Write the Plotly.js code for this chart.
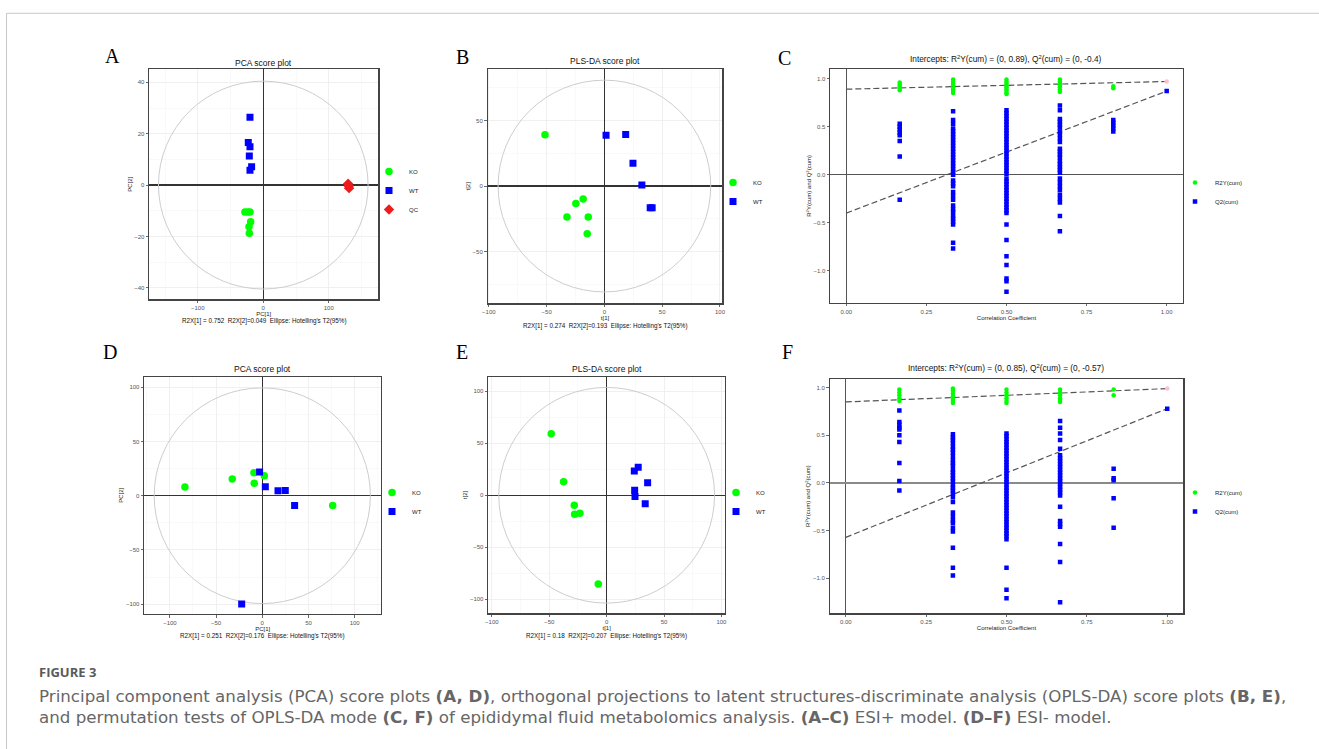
<!DOCTYPE html>
<html><head><meta charset="utf-8">
<script src="https://cdn.plot.ly/plotly-3.0.1.min.js"></script>
<style>html,body{margin:0;padding:0;background:#fff;} #chart{width:1319px;height:749px;}</style>
</head><body><div id="chart"></div>
<script>
// ---------------- DATA ----------------
// (A) PCA score plot, ESI+
const A_KO_x = [-28, -23.5, -20.3, -19.3, -21.8, -21.3];
const A_KO_y = [-10.5, -10.5, -10.5, -14.3, -16.2, -18.8];
const A_WT_x = [-20.3, -22.9, -20.3, -21.3, -17.8, -20.3];
const A_WT_y = [26.4, 16.6, 14.9, 11.3, 7.1, 5.8];
const A_QC_x = [129.5, 131, 130.5];
const A_QC_y = [0.5, -1.2, -0.4];
const A_R2X = [0.752, 0.049];
const A_ellipse = [160, 40.5];

// (B) PLS-DA score plot, ESI+
const B_KO_x = [-51.4, -18.4, -24.7, -32.4, -14, -14.9];
const B_KO_y = [39.3, -9.9, -13.3, -23.7, -23.7, -36.5];
const B_WT_x = [1.4, 18.4, 24.7, 32.4, 39.6, 41.3];
const B_WT_y = [38.8, 39.5, 17.4, 0.8, -16.6, -16.6];
const B_R2X = [0.274, 0.193];
const B_ellipse = [92, 81];

// (D) PCA score plot, ESI-
const D_KO_x = [-83.7, -32.5, -9.0, -8.7, 2.2, 76.2];
const D_KO_y = [8.0, 15.4, 21.2, 11.4, 18.5, -8.9];
const D_WT_x = [-2.9, 3.3, 17, 24.9, 35.0, -22.3];
const D_WT_y = [21.9, 8.3, 4.6, 4.9, -8.9, -99.9];
const D_R2X = [0.251, 0.176];
const D_ellipse = [117, 99.5];

// (E) PLS-DA score plot, ESI-
const E_KO_x = [-48.3, -37.5, -28.2, -27.9, -23.3, -7.3];
const E_KO_y = [59.2, 13.1, -9.6, -18.3, -17.3, -85.3];
const E_WT_x = [24.1, 27.5, 35.7, 24.4, 24.7, 33.6];
const E_WT_y = [23.4, 26.9, 12.1, 4.8, -1.3, -8.1];
const E_R2X = [0.18, 0.207];
const E_ellipse = [94, 103.7];

// Permutation tests: retained-correlation positions
const permX = [0.1667, 0.3333, 0.5, 0.6667, 0.8333];

// (C) ESI+ permutation test
const C_R2_cols = [
  [0.96, 0.94, 0.92, 0.90, 0.88],
  [0.99, 0.97, 0.95, 0.93, 0.91, 0.89, 0.87, 0.85],
  [0.99, 0.97, 0.95, 0.93, 0.91, 0.89, 0.87, 0.85, 0.84],
  [0.99, 0.97, 0.95, 0.93, 0.91, 0.89, 0.87, 0.86],
  [0.92, 0.90]
];
const C_Q2_cols = [
  [0.53, 0.50, 0.47, 0.44, 0.41, 0.35, 0.19, -0.26],
  [0.66, 0.57, 0.53, 0.48, 0.45, 0.42, 0.39, 0.36, 0.33, 0.30, 0.27, 0.24, 0.21, 0.18, 0.15, 0.12, 0.09, 0.06, 0.03, 0.00,
   -0.06, -0.09, -0.12, -0.18, -0.22, -0.26, -0.32, -0.36, -0.39, -0.43, -0.46, -0.49, -0.52, -0.71, -0.77],
  [0.67, 0.64, 0.61, 0.58, 0.55, 0.52, 0.49, 0.46, 0.43, 0.40, 0.37, 0.34, 0.31, 0.28, 0.25, 0.22, 0.19, 0.16, 0.13, 0.10,
   0.07, 0.04, 0.01, -0.04, -0.07, -0.10, -0.13, -0.16, -0.19, -0.22, -0.25, -0.28, -0.31, -0.34, -0.37, -0.40,
   -0.52, -0.68, -0.85, -0.94, -1.08, -1.11, -1.22],
  [0.72, 0.67, 0.58, 0.55, 0.52, 0.49, 0.45, 0.42, 0.38, 0.34, 0.27, 0.24, 0.21, 0.18, 0.14, 0.11, 0.08, 0.05, 0.02,
   -0.04, -0.08, -0.12, -0.16, -0.21, -0.25, -0.29, -0.43, -0.59],
  [0.57, 0.54, 0.51, 0.48, 0.45]
];
const C_orig = {R2: 0.97, Q2: 0.87};
const C_intercepts = {R2: 0.89, Q2: -0.4};

// (F) ESI- permutation test
const F_R2_cols = [
  [0.98, 0.95, 0.92, 0.89, 0.86],
  [0.99, 0.97, 0.94, 0.91, 0.88, 0.86, 0.84],
  [0.98, 0.95, 0.92, 0.89, 0.86, 0.84],
  [0.98, 0.95, 0.92, 0.89, 0.87, 0.85],
  [0.98, 0.92]
];
const F_Q2_cols = [
  [0.76, 0.64, 0.61, 0.58, 0.56, 0.50, 0.43, 0.21, 0.02, -0.08],
  [0.51, 0.48, 0.45, 0.42, 0.38, 0.35, 0.32, 0.28, 0.24, 0.21, 0.18, 0.14, 0.11, 0.08, 0.05, 0.02, -0.02, -0.05,
   -0.08, -0.11, -0.15, -0.20, -0.31, -0.35, -0.39, -0.42, -0.47, -0.51, -0.68, -0.89, -0.97],
  [0.52, 0.49, 0.46, 0.43, 0.40, 0.37, 0.34, 0.31, 0.28, 0.25, 0.22, 0.19, 0.16, 0.13, 0.10, 0.07, 0.04, 0.01,
   -0.02, -0.05, -0.08, -0.11, -0.14, -0.17, -0.20, -0.23, -0.26, -0.29, -0.32, -0.35, -0.38, -0.41, -0.44, -0.47,
   -0.50, -0.53, -0.56, -0.59, -0.89, -1.12, -1.21],
  [0.65, 0.58, 0.52, 0.45, 0.36, 0.29, 0.26, 0.23, 0.20, 0.17, 0.14, 0.11, 0.08, 0.05, 0.02, -0.01, -0.04, -0.07,
   -0.10, -0.13, -0.25, -0.40, -0.43, -0.46, -0.64, -0.83, -1.25],
  [0.15, 0.05, 0.03, -0.16, -0.47]
];
const F_orig = {R2: 0.99, Q2: 0.78};
const F_intercepts = {R2: 0.85, Q2: -0.57};

const groupNames = ['KO', 'WT', 'QC'];
const permNames = ['R2Y(cum)', 'Q2(cum)'];

// ---------------- STYLE ----------------
const W = 1319, H = 749;
const X = p => p / W;
const Y = p => 1 - p / H;
const GREEN = '#00ff00', BLUE = '#0000ff', RED = '#ee1c1c', PINK = '#ffc0cb';
const SANS = 'Liberation Sans, Arial, sans-serif';

const traces = [];
function scoreTraces(n, kx, ky, wx, wy, qx, qy) {
  const xa = 'x' + (n === 1 ? '' : n), ya = 'y' + (n === 1 ? '' : n);
  const leg = 'legend' + (n === 1 ? '' : n);
  traces.push({type:'scatter', mode:'markers', x:kx, y:ky, name:groupNames[0], xaxis:xa, yaxis:ya, legend:leg,
    marker:{symbol:'circle', size:7.5, color:GREEN}});
  traces.push({type:'scatter', mode:'markers', x:wx, y:wy, name:groupNames[1], xaxis:xa, yaxis:ya, legend:leg,
    marker:{symbol:'square', size:7, color:BLUE}});
  if (qx) traces.push({type:'scatter', mode:'markers', x:qx, y:qy, name:groupNames[2], xaxis:xa, yaxis:ya, legend:leg,
    marker:{symbol:'diamond', size:8, color:RED}});
}
function flatten(cols) {
  const xs = [], ys = [];
  cols.forEach((c, i) => c.forEach(v => { xs.push(permX[i]); ys.push(v); }));
  return {xs, ys};
}
function permTraces(n, r2cols, q2cols, orig, inter) {
  const xa = 'x' + n, ya = 'y' + n, leg = 'legend' + n;
  const lineStyle = {color:'#555', width:1.2, dash:'6px,3px'};
  traces.push({type:'scatter', mode:'lines', x:[0, 1], y:[inter.R2, orig.R2], xaxis:xa, yaxis:ya, showlegend:false, line:lineStyle, hoverinfo:'skip'});
  traces.push({type:'scatter', mode:'lines', x:[0, 1], y:[inter.Q2, orig.Q2], xaxis:xa, yaxis:ya, showlegend:false, line:lineStyle, hoverinfo:'skip'});
  const r = flatten(r2cols), q = flatten(q2cols);
  traces.push({type:'scatter', mode:'markers', x:r.xs, y:r.ys, name:permNames[0], xaxis:xa, yaxis:ya, legend:leg,
    marker:{symbol:'circle', size:4.5, color:GREEN}});
  traces.push({type:'scatter', mode:'markers', x:q.xs, y:q.ys, name:permNames[1], xaxis:xa, yaxis:ya, legend:leg,
    marker:{symbol:'square', size:4.5, color:BLUE}});
  traces.push({type:'scatter', mode:'markers', x:[1], y:[orig.R2], xaxis:xa, yaxis:ya, showlegend:false,
    marker:{symbol:'circle', size:4.5, color:PINK}});
  traces.push({type:'scatter', mode:'markers', x:[1], y:[orig.Q2], xaxis:xa, yaxis:ya, showlegend:false,
    marker:{symbol:'square', size:4.5, color:BLUE}});
}
scoreTraces(1, A_KO_x, A_KO_y, A_WT_x, A_WT_y, A_QC_x, A_QC_y);
scoreTraces(2, B_KO_x, B_KO_y, B_WT_x, B_WT_y);
permTraces(3, C_R2_cols, C_Q2_cols, C_orig, C_intercepts);
scoreTraces(4, D_KO_x, D_KO_y, D_WT_x, D_WT_y);
scoreTraces(5, E_KO_x, E_KO_y, E_WT_x, E_WT_y);
permTraces(6, F_R2_cols, F_Q2_cols, F_orig, F_intercepts);

function baseAxis(dom, range, dtick, anchor, title) {
  return {domain:dom, range:range, autorange:false, dtick:dtick, tick0:0, anchor:anchor,
    showline:true, mirror:true, linecolor:'#444', linewidth:1.2,
    ticks:'outside', ticklen:2.5, tickwidth:0.8, tickcolor:'#444',
    tickfont:{family:SANS, size:6, color:'#555'},
    zeroline:true, zerolinecolor:'#333', zerolinewidth:1.3,
    title:{text:title, font:{family:SANS, size:6, color:'#222'}, standoff:1},
    fixedrange:true};
}
function scoreAxis(dom, range, dtick, anchor, title) {
  const a = baseAxis(dom, range, dtick, anchor, title);
  a.showgrid = true; a.gridcolor = '#ececec'; a.gridwidth = 0.8;
  a.minor = {dtick: dtick / 2, tick0: 0, showgrid: true, gridcolor: '#f5f5f5', gridwidth: 0.6};
  return a;
}
function permAxis(dom, range, dtick, anchor, title, fmt, zc, zw) {
  const a = baseAxis(dom, range, dtick, anchor, title);
  a.showgrid = false; a.tickformat = fmt; a.zerolinecolor = zc; a.zerolinewidth = zw;
  return a;
}

const layout = {
  width: W, height: H, margin:{l:0, r:0, t:0, b:0}, paper_bgcolor:'#fff', plot_bgcolor:'#fff',
  font:{family:SANS, color:'#222'}, hovermode:false,
  xaxis:  scoreAxis([X(149.3), X(378.3)], [-174, 175.6], 100, 'y', 'PC[1]'),
  yaxis:  scoreAxis([Y(299.3), Y(69.3)], [-44.5, 45.1], 20, 'x', 'PC[2]'),
  xaxis2: scoreAxis([X(487.7), X(722.3)], [-101, 102], 50, 'y2', 't[1]'),
  yaxis2: scoreAxis([Y(303.3), Y(69.3)], [-89.7, 89.3], 50, 'x2', 't[2]'),
  xaxis3: permAxis([X(830.3), X(1182.7)], [-0.05, 1.05], 0.25, 'y3', 'Correlation Coefficient', '.2f', '#555', 1.3),
  yaxis3: permAxis([Y(302.7), Y(69)], [-1.333, 1.10], 0.5, 'x3', 'R<sup>2</sup>Y(cum) and Q<sup>2</sup>(cum)', '.1f', '#555', 1.3),
  xaxis4: scoreAxis([X(144.3), X(381)], [-127.7, 128.5], 50, 'y4', 'PC[1]'),
  yaxis4: scoreAxis([Y(614), Y(376.7)], [-109.1, 109.8], 50, 'x4', 'PC[2]'),
  xaxis5: scoreAxis([X(488.3), X(725)], [-103.1, 103.1], 50, 'y5', 't[1]'),
  yaxis5: scoreAxis([Y(613.3), Y(376.7)], [-113.5, 114], 50, 'x5', 't[2]'),
  xaxis6: permAxis([X(829.7), X(1183.3)], [-0.05, 1.05], 0.25, 'y6', 'Correlation Coefficient', '.2f', '#555', 1.3),
  yaxis6: permAxis([Y(613.3), Y(378.7)], [-1.367, 1.094], 0.5, 'x6', 'R<sup>2</sup>Y(cum) and Q<sup>2</sup>(cum)', '.1f', '#8a8a8a', 1.8),
  shapes: [], annotations: []
};
const legBase = {xanchor:'left', yanchor:'top', font:{family:SANS, size:6, color:'#222'}, bgcolor:'rgba(0,0,0,0)', borderwidth:0, tracegroupgap:0};
layout.legend  = Object.assign({}, legBase, {x:X(369), y:Y(157)});
layout.legend2 = Object.assign({}, legBase, {x:X(713), y:Y(168)});
layout.legend3 = Object.assign({}, legBase, {x:X(1175), y:Y(168)});
layout.legend4 = Object.assign({}, legBase, {x:X(372), y:Y(478)});
layout.legend5 = Object.assign({}, legBase, {x:X(716), y:Y(478)});
layout.legend6 = Object.assign({}, legBase, {x:X(1175), y:Y(478)});

// Hotelling T2 ellipses
[[1, A_ellipse], [2, B_ellipse], [4, D_ellipse], [5, E_ellipse]].forEach(([n, e]) => {
  const s = n === 1 ? '' : n;
  layout.shapes.push({type:'circle', xref:'x' + s, yref:'y' + s, x0:-e[0], x1:e[0], y0:-e[1], y1:e[1],
    line:{color:'#cdcdcd', width:1}, layer:'between'});
});
// page frame
layout.shapes.push({type:'line', xref:'paper', yref:'paper', x0:X(6.5), x1:1, y0:Y(13.3), y1:Y(13.3), line:{color:'#c8c8c8', width:1}});
layout.shapes.push({type:'line', xref:'paper', yref:'paper', x0:X(6.5), x1:X(6.5), y0:Y(13.3), y1:0, line:{color:'#c8c8c8', width:1}});

function ann(text, px, py, size, opts) {
  layout.annotations.push(Object.assign({text:text, xref:'paper', yref:'paper', x:X(px), y:Y(py),
    xanchor:'center', yanchor:'middle', showarrow:false, font:{family:SANS, size:size, color:'#111'}}, opts || {}));
}
// panel letters
const SERIF = 'Liberation Serif, Times New Roman, serif';
[['A',112,55.5],['B',462,57],['C',784,58],['D',110,352],['E',462,352],['F',787,352]].forEach(l =>
  ann(l[0], l[1], l[2], 20, {font:{family:SERIF, size:20, color:'#000'}}));
// plot titles
ann('PCA score plot', 263.5, 62.5, 8.5);
ann('PLS-DA score plot', 604.5, 61, 8.5);
ann('PCA score plot', 262.5, 369.3, 8.5);
ann('PLS-DA score plot', 606.7, 369, 8.5);
const interTitle = (it) => 'Intercepts: R<sup>2</sup>Y(cum) = (0, ' + it.R2 + '), Q<sup>2</sup>(cum) = (0, ' + it.Q2 + ')';
ann(interTitle(C_intercepts), 1006, 59.3, 8.3);
ann(interTitle(F_intercepts), 1006, 367.7, 8.3);
// R2X subtitles
const sub = (r) => 'R2X[1] = ' + r[0] + '  R2X[2]=' + r[1] + '  Ellipse: Hotelling\'s T2(95%)';
ann(sub(A_R2X), 264, 321, 6.3);
ann(sub(B_R2X), 605, 325.7, 6.3);
ann(sub(D_R2X), 262.5, 635.7, 6.3);
ann(sub(E_R2X), 606.7, 635.7, 6.3);
// caption
const CAP = 'DejaVu Sans, Open Sans, sans-serif';
ann('<b>FIGURE 3</b>', 37, 672, 13, {xanchor:'left', font:{family:'Open Sans, sans-serif', size:13, color:'#5a5a5a'}});
ann('Principal component analysis (PCA) score plots <b>(A, D)</b>, orthogonal projections to latent structures-discriminate analysis (OPLS-DA) score plots <b>(B, E)</b>,',
  37, 696, 16.7, {xanchor:'left', font:{family:CAP, size:16.7, color:'#666'}});
ann('and permutation tests of OPLS-DA mode <b>(C, F)</b> of epididymal fluid metabolomics analysis. <b>(A–C)</b> ESI+ model. <b>(D–F)</b> ESI- model.',
  37, 717, 16.7, {xanchor:'left', font:{family:CAP, size:16.7, color:'#666'}});

Plotly.newPlot('chart', traces, layout, {staticPlot:true, displayModeBar:false});
</script></body></html>
